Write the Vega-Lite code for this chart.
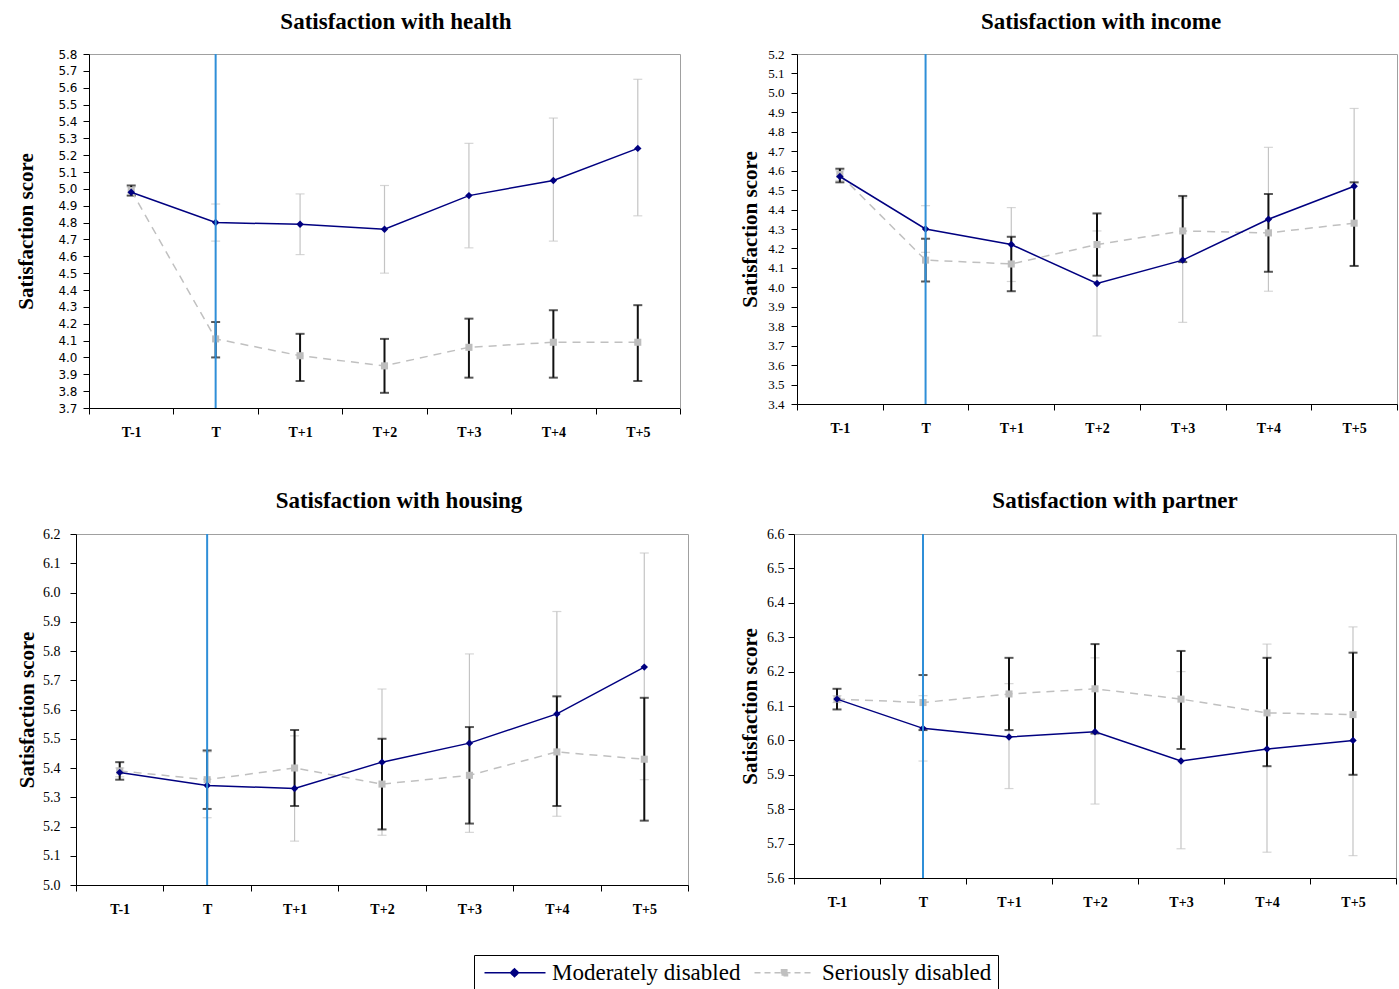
{
  "$schema": "https://vega.github.io/schema/vega-lite/v6.json",
  "background": "white",
  "padding": {"left": 15, "top": 10, "right": 0, "bottom": 0},
  "datasets": {
    "d": [
      {"panel": "health", "time": "T-1", "group": "Moderately disabled", "value": 4.98, "lo": 4.96, "hi": 5.01},
      {"panel": "health", "time": "T", "group": "Moderately disabled", "value": 4.80, "lo": 4.69, "hi": 4.91},
      {"panel": "health", "time": "T+1", "group": "Moderately disabled", "value": 4.79, "lo": 4.61, "hi": 4.97},
      {"panel": "health", "time": "T+2", "group": "Moderately disabled", "value": 4.76, "lo": 4.50, "hi": 5.02},
      {"panel": "health", "time": "T+3", "group": "Moderately disabled", "value": 4.96, "lo": 4.65, "hi": 5.27},
      {"panel": "health", "time": "T+4", "group": "Moderately disabled", "value": 5.05, "lo": 4.69, "hi": 5.42},
      {"panel": "health", "time": "T+5", "group": "Moderately disabled", "value": 5.24, "lo": 4.84, "hi": 5.65},
      {"panel": "health", "time": "T-1", "group": "Seriously disabled", "value": 4.99, "lo": 4.96, "hi": 5.02},
      {"panel": "health", "time": "T", "group": "Seriously disabled", "value": 4.11, "lo": 4.00, "hi": 4.21},
      {"panel": "health", "time": "T+1", "group": "Seriously disabled", "value": 4.01, "lo": 3.86, "hi": 4.14},
      {"panel": "health", "time": "T+2", "group": "Seriously disabled", "value": 3.95, "lo": 3.79, "hi": 4.11},
      {"panel": "health", "time": "T+3", "group": "Seriously disabled", "value": 4.06, "lo": 3.88, "hi": 4.23},
      {"panel": "health", "time": "T+4", "group": "Seriously disabled", "value": 4.09, "lo": 3.88, "hi": 4.28},
      {"panel": "health", "time": "T+5", "group": "Seriously disabled", "value": 4.09, "lo": 3.86, "hi": 4.31},

      {"panel": "income", "time": "T-1", "group": "Moderately disabled", "value": 4.57, "lo": 4.55, "hi": 4.60},
      {"panel": "income", "time": "T", "group": "Moderately disabled", "value": 4.30, "lo": 4.18, "hi": 4.42},
      {"panel": "income", "time": "T+1", "group": "Moderately disabled", "value": 4.22, "lo": 4.03, "hi": 4.41},
      {"panel": "income", "time": "T+2", "group": "Moderately disabled", "value": 4.02, "lo": 3.75, "hi": 4.29},
      {"panel": "income", "time": "T+3", "group": "Moderately disabled", "value": 4.14, "lo": 3.82, "hi": 4.46},
      {"panel": "income", "time": "T+4", "group": "Moderately disabled", "value": 4.35, "lo": 3.98, "hi": 4.72},
      {"panel": "income", "time": "T+5", "group": "Moderately disabled", "value": 4.52, "lo": 4.11, "hi": 4.92},
      {"panel": "income", "time": "T-1", "group": "Seriously disabled", "value": 4.58, "lo": 4.54, "hi": 4.61},
      {"panel": "income", "time": "T", "group": "Seriously disabled", "value": 4.14, "lo": 4.03, "hi": 4.25},
      {"panel": "income", "time": "T+1", "group": "Seriously disabled", "value": 4.12, "lo": 3.98, "hi": 4.26},
      {"panel": "income", "time": "T+2", "group": "Seriously disabled", "value": 4.22, "lo": 4.06, "hi": 4.38},
      {"panel": "income", "time": "T+3", "group": "Seriously disabled", "value": 4.29, "lo": 4.13, "hi": 4.47},
      {"panel": "income", "time": "T+4", "group": "Seriously disabled", "value": 4.28, "lo": 4.08, "hi": 4.48},
      {"panel": "income", "time": "T+5", "group": "Seriously disabled", "value": 4.33, "lo": 4.11, "hi": 4.54},

      {"panel": "housing", "time": "T-1", "group": "Moderately disabled", "value": 5.385, "lo": 5.37, "hi": 5.40},
      {"panel": "housing", "time": "T", "group": "Moderately disabled", "value": 5.34, "lo": 5.23, "hi": 5.455},
      {"panel": "housing", "time": "T+1", "group": "Moderately disabled", "value": 5.33, "lo": 5.15, "hi": 5.51},
      {"panel": "housing", "time": "T+2", "group": "Moderately disabled", "value": 5.42, "lo": 5.17, "hi": 5.67},
      {"panel": "housing", "time": "T+3", "group": "Moderately disabled", "value": 5.485, "lo": 5.18, "hi": 5.79},
      {"panel": "housing", "time": "T+4", "group": "Moderately disabled", "value": 5.585, "lo": 5.235, "hi": 5.935},
      {"panel": "housing", "time": "T+5", "group": "Moderately disabled", "value": 5.745, "lo": 5.36, "hi": 6.135},
      {"panel": "housing", "time": "T-1", "group": "Seriously disabled", "value": 5.39, "lo": 5.36, "hi": 5.42},
      {"panel": "housing", "time": "T", "group": "Seriously disabled", "value": 5.36, "lo": 5.26, "hi": 5.46},
      {"panel": "housing", "time": "T+1", "group": "Seriously disabled", "value": 5.40, "lo": 5.27, "hi": 5.53},
      {"panel": "housing", "time": "T+2", "group": "Seriously disabled", "value": 5.345, "lo": 5.19, "hi": 5.50},
      {"panel": "housing", "time": "T+3", "group": "Seriously disabled", "value": 5.375, "lo": 5.21, "hi": 5.54},
      {"panel": "housing", "time": "T+4", "group": "Seriously disabled", "value": 5.455, "lo": 5.27, "hi": 5.645},
      {"panel": "housing", "time": "T+5", "group": "Seriously disabled", "value": 5.43, "lo": 5.22, "hi": 5.64},

      {"panel": "partner", "time": "T-1", "group": "Moderately disabled", "value": 6.12, "lo": 6.11, "hi": 6.13},
      {"panel": "partner", "time": "T", "group": "Moderately disabled", "value": 6.035, "lo": 5.94, "hi": 6.13},
      {"panel": "partner", "time": "T+1", "group": "Moderately disabled", "value": 6.01, "lo": 5.86, "hi": 6.165},
      {"panel": "partner", "time": "T+2", "group": "Moderately disabled", "value": 6.025, "lo": 5.815, "hi": 6.24},
      {"panel": "partner", "time": "T+3", "group": "Moderately disabled", "value": 5.94, "lo": 5.685, "hi": 6.20},
      {"panel": "partner", "time": "T+4", "group": "Moderately disabled", "value": 5.975, "lo": 5.675, "hi": 6.28},
      {"panel": "partner", "time": "T+5", "group": "Moderately disabled", "value": 6.0, "lo": 5.665, "hi": 6.33},
      {"panel": "partner", "time": "T-1", "group": "Seriously disabled", "value": 6.12, "lo": 6.09, "hi": 6.15},
      {"panel": "partner", "time": "T", "group": "Seriously disabled", "value": 6.11, "lo": 6.03, "hi": 6.19},
      {"panel": "partner", "time": "T+1", "group": "Seriously disabled", "value": 6.135, "lo": 6.03, "hi": 6.24},
      {"panel": "partner", "time": "T+2", "group": "Seriously disabled", "value": 6.15, "lo": 6.02, "hi": 6.28},
      {"panel": "partner", "time": "T+3", "group": "Seriously disabled", "value": 6.12, "lo": 5.975, "hi": 6.26},
      {"panel": "partner", "time": "T+4", "group": "Seriously disabled", "value": 6.08, "lo": 5.925, "hi": 6.24},
      {"panel": "partner", "time": "T+5", "group": "Seriously disabled", "value": 6.075, "lo": 5.90, "hi": 6.255}
    ]
  },
  "config": {
    "font": "Liberation Serif",
    "view": {"stroke": "#a0a0a0", "strokeWidth": 1},
    "axis": {"grid": false, "domainColor": "black", "tickColor": "black", "labelColor": "black", "titleColor": "black", "labelFont": "Liberation Serif", "titleFont": "Liberation Serif", "domainWidth": 1, "tickWidth": 1, "tickSize": 6},
    "title": {"font": "Liberation Serif", "fontWeight": "bold", "fontSize": 23, "color": "black", "offset": 14},
    "legend": {"orient": "none", "legendX": 398, "legendY": 901, "direction": "horizontal", "title": null, "strokeColor": "black", "padding": 6, "labelFont": "Liberation Serif", "labelFontSize": 23, "labelColor": "black", "labelLimit": 400, "symbolSize": 400, "symbolStrokeWidth": 1.5, "symbolOpacity": 1, "labelOffset": 49, "columnPadding": 9, "fillColor": "white"}
  },
  "align": "none",
  "columns": 2,
  "spacing": {"row": 50, "column": 50},
  "concat": [
    {
      "width": 604, "height": 354,
      "view": {"stroke": null},
      "title": {"text": "Satisfaction with health", "dx": 18},
      "resolve": {"axis": {"x": "independent", "y": "independent"}},
      "layer": [
        {
          "data": {"name": "d"},
          "transform": [{"filter": "datum.panel == 'health'"}],
          "encoding": {"x": {"field": "time", "type": "ordinal", "sort": ["T-1", "T", "T+1", "T+2", "T+3", "T+4", "T+5"], "scale": {"type": "band", "paddingInner": 0, "paddingOuter": 0, "range": [13, 604]}, "axis": {"title": null, "labelAngle": 0, "tickBand": "extent", "labelFontSize": 14, "labelPadding": 11, "labelFontWeight": "bold"}}},
          "layer": [
            {"transform": [{"filter": "datum.group == 'Moderately disabled'"}], "mark": {"type": "errorbar", "color": "#c4c4c4", "thickness": 1.2, "ticks": {"size": 9, "thickness": 1.2, "color": "#c4c4c4"}}, "encoding": {"y": {"field": "lo", "type": "quantitative", "title": "Satisfaction score", "scale": {"domain": [3.7, 5.8], "nice": false, "zero": false}}, "y2": {"field": "hi"}}},
            {"transform": [{"filter": "datum.group == 'Seriously disabled'"}], "mark": {"type": "errorbar", "color": "#111111", "thickness": 2, "ticks": {"size": 9, "thickness": 2, "color": "#111111"}}, "encoding": {"y": {"field": "lo", "type": "quantitative", "title": "Satisfaction score"}, "y2": {"field": "hi"}}},
            {"transform": [{"filter": "datum.group == 'Seriously disabled'"}], "mark": {"type": "line", "color": "#c0c0c0", "strokeDash": [8, 6], "strokeWidth": 1.5}, "encoding": {"y": {"field": "value", "type": "quantitative", "title": "Satisfaction score"}}},
            {"transform": [{"filter": "datum.group == 'Seriously disabled'"}], "mark": {"type": "point", "shape": "square", "filled": true, "color": "#bdbdbd", "size": 50, "opacity": 1}, "encoding": {"y": {"field": "value", "type": "quantitative", "title": "Satisfaction score"}}},
            {"transform": [{"filter": "datum.group == 'Moderately disabled'"}], "mark": {"type": "line", "color": "#000080", "strokeWidth": 1.5}, "encoding": {"y": {"field": "value", "type": "quantitative", "title": "Satisfaction score", "axis": {"values": [3.7,3.8,3.9,4.0,4.1,4.2,4.3,4.4,4.5,4.6,4.7,4.8,4.9,5.0,5.1,5.2,5.3,5.4,5.5,5.6,5.7,5.8], "tickCount": 60, "labelOverlap": false, "format": ".1f", "labelFont": "DejaVu Sans", "labelFontSize": 12, "labelPadding": 6, "titleFontSize": 21, "titleFontWeight": "bold", "titlePadding": 21, "offset": -13}}}},
            {"transform": [{"filter": "datum.group == 'Moderately disabled'"}], "mark": {"type": "point", "shape": "diamond", "filled": true, "color": "#000080", "size": 55, "opacity": 1}, "encoding": {"y": {"field": "value", "type": "quantitative", "title": "Satisfaction score"}}},
            {"data": {"values": [{"time": "T"}]}, "mark": {"type": "rule", "color": "#2f8fd8", "strokeWidth": 2}, "encoding": {}},
            {"transform": [{"filter": "datum.panel == 'none'"}], "mark": {"type": "point", "filled": true}, "encoding": {
              "fill": {"field": "group", "type": "nominal", "scale": {"domain": ["Moderately disabled", "Seriously disabled"], "range": ["#000080", "#c0c0c0"]}},
              "stroke": {"field": "group", "type": "nominal", "scale": {"domain": ["Moderately disabled", "Seriously disabled"], "range": ["#000080", "#c0c0c0"]}},
              "shape": {"field": "group", "type": "nominal", "scale": {"domain": ["Moderately disabled", "Seriously disabled"], "range": ["M-0.7,0L5.4,0M2.3,-0.4L2.7,0L2.3,0.4L1.9,0Z", "M-0.7,0L5.3,0M2.0,-0.3L2.6,-0.3L2.6,0.3L2.0,0.3Z"]}},
              "strokeDash": {"field": "group", "type": "nominal", "scale": {"domain": ["Moderately disabled", "Seriously disabled"], "range": [[1, 0], [6, 4]]}}
            }}
          ]
        },
        {
          "data": {"values": [{"time": "T", "v": 5.0}]},
          "mark": {"type": "point", "opacity": 0},
          "encoding": {
            "x": {"field": "time", "type": "ordinal", "sort": ["T-1", "T", "T+1", "T+2", "T+3", "T+4", "T+5"], "scale": {"type": "band", "paddingInner": 0, "paddingOuter": 0, "range": [13, 604]}, "axis": {"orient": "top", "domainColor": "#a0a0a0", "ticks": false, "labels": false, "title": null}},
            "y": {"field": "v", "type": "quantitative", "axis": {"orient": "right", "domainColor": "#a0a0a0", "ticks": false, "labels": false, "title": null}}
          }
        }
      ]
    },
    {
      "width": 600, "height": 350,
      "title": {"text": "Satisfaction with income", "dx": 4},
      "data": {"name": "d"},
      "transform": [{"filter": "datum.panel == 'income'"}],
      "encoding": {"x": {"field": "time", "type": "ordinal", "sort": ["T-1", "T", "T+1", "T+2", "T+3", "T+4", "T+5"], "scale": {"type": "band", "paddingInner": 0, "paddingOuter": 0}, "axis": {"title": null, "labelAngle": 0, "tickBand": "extent", "labelFontSize": 14, "labelPadding": 11, "labelFontWeight": "bold"}}},
      "layer": [
        {"transform": [{"filter": "datum.group == 'Moderately disabled'"}], "mark": {"type": "errorbar", "color": "#c4c4c4", "thickness": 1.2, "ticks": {"size": 9, "thickness": 1.2, "color": "#c4c4c4"}}, "encoding": {"y": {"field": "lo", "type": "quantitative", "title": "Satisfaction score", "scale": {"domain": [3.4, 5.2], "nice": false, "zero": false}}, "y2": {"field": "hi"}}},
        {"transform": [{"filter": "datum.group == 'Seriously disabled'"}], "mark": {"type": "errorbar", "color": "#111111", "thickness": 2, "ticks": {"size": 9, "thickness": 2, "color": "#111111"}}, "encoding": {"y": {"field": "lo", "type": "quantitative", "title": "Satisfaction score"}, "y2": {"field": "hi"}}},
        {"transform": [{"filter": "datum.group == 'Seriously disabled'"}], "mark": {"type": "line", "color": "#c0c0c0", "strokeDash": [8, 6], "strokeWidth": 1.5}, "encoding": {"y": {"field": "value", "type": "quantitative", "title": "Satisfaction score"}}},
        {"transform": [{"filter": "datum.group == 'Seriously disabled'"}], "mark": {"type": "point", "shape": "square", "filled": true, "color": "#bdbdbd", "size": 50, "opacity": 1}, "encoding": {"y": {"field": "value", "type": "quantitative", "title": "Satisfaction score"}}},
        {"transform": [{"filter": "datum.group == 'Moderately disabled'"}], "mark": {"type": "line", "color": "#000080", "strokeWidth": 1.5}, "encoding": {"y": {"field": "value", "type": "quantitative", "title": "Satisfaction score", "axis": {"values": [3.4,3.5,3.6,3.7,3.8,3.9,4.0,4.1,4.2,4.3,4.4,4.5,4.6,4.7,4.8,4.9,5.0,5.1,5.2], "tickCount": 60, "labelOverlap": false, "format": ".1f", "labelFontSize": 13, "labelPadding": 7, "titleFontSize": 21, "titleFontWeight": "bold", "titlePadding": 7}}}},
        {"transform": [{"filter": "datum.group == 'Moderately disabled'"}], "mark": {"type": "point", "shape": "diamond", "filled": true, "color": "#000080", "size": 55, "opacity": 1}, "encoding": {"y": {"field": "value", "type": "quantitative", "title": "Satisfaction score"}}},
        {"data": {"values": [{"time": "T"}]}, "mark": {"type": "rule", "color": "#2f8fd8", "strokeWidth": 2}, "encoding": {}}
      ]
    },
    {
      "width": 612, "height": 351,
      "title": {"text": "Satisfaction with housing", "dx": 17},
      "data": {"name": "d"},
      "transform": [{"filter": "datum.panel == 'housing'"}],
      "encoding": {"x": {"field": "time", "type": "ordinal", "sort": ["T-1", "T", "T+1", "T+2", "T+3", "T+4", "T+5"], "scale": {"type": "band", "paddingInner": 0, "paddingOuter": 0}, "axis": {"title": null, "labelAngle": 0, "tickBand": "extent", "labelFontSize": 14, "labelPadding": 11, "labelFontWeight": "bold"}}},
      "layer": [
        {"transform": [{"filter": "datum.group == 'Moderately disabled'"}], "mark": {"type": "errorbar", "color": "#c4c4c4", "thickness": 1.2, "ticks": {"size": 9, "thickness": 1.2, "color": "#c4c4c4"}}, "encoding": {"y": {"field": "lo", "type": "quantitative", "title": "Satisfaction score", "scale": {"domain": [5.0, 6.2], "nice": false, "zero": false}}, "y2": {"field": "hi"}}},
        {"transform": [{"filter": "datum.group == 'Seriously disabled'"}], "mark": {"type": "errorbar", "color": "#111111", "thickness": 2, "ticks": {"size": 9, "thickness": 2, "color": "#111111"}}, "encoding": {"y": {"field": "lo", "type": "quantitative", "title": "Satisfaction score"}, "y2": {"field": "hi"}}},
        {"transform": [{"filter": "datum.group == 'Seriously disabled'"}], "mark": {"type": "line", "color": "#c0c0c0", "strokeDash": [8, 6], "strokeWidth": 1.5}, "encoding": {"y": {"field": "value", "type": "quantitative", "title": "Satisfaction score"}}},
        {"transform": [{"filter": "datum.group == 'Seriously disabled'"}], "mark": {"type": "point", "shape": "square", "filled": true, "color": "#bdbdbd", "size": 50, "opacity": 1}, "encoding": {"y": {"field": "value", "type": "quantitative", "title": "Satisfaction score"}}},
        {"transform": [{"filter": "datum.group == 'Moderately disabled'"}], "mark": {"type": "line", "color": "#000080", "strokeWidth": 1.5}, "encoding": {"y": {"field": "value", "type": "quantitative", "title": "Satisfaction score", "axis": {"values": [5.0,5.1,5.2,5.3,5.4,5.5,5.6,5.7,5.8,5.9,6.0,6.1,6.2], "tickCount": 60, "labelOverlap": false, "format": ".1f", "labelFontSize": 14, "labelPadding": 10, "titleFontSize": 21, "titleFontWeight": "bold", "titlePadding": 5}}}},
        {"transform": [{"filter": "datum.group == 'Moderately disabled'"}], "mark": {"type": "point", "shape": "diamond", "filled": true, "color": "#000080", "size": 55, "opacity": 1}, "encoding": {"y": {"field": "value", "type": "quantitative", "title": "Satisfaction score"}}},
        {"data": {"values": [{"time": "T"}]}, "mark": {"type": "rule", "color": "#2f8fd8", "strokeWidth": 2}, "encoding": {}}
      ]
    },
    {
      "width": 602, "height": 344,
      "title": {"text": "Satisfaction with partner", "dx": 20},
      "data": {"name": "d"},
      "transform": [{"filter": "datum.panel == 'partner'"}],
      "encoding": {"x": {"field": "time", "type": "ordinal", "sort": ["T-1", "T", "T+1", "T+2", "T+3", "T+4", "T+5"], "scale": {"type": "band", "paddingInner": 0, "paddingOuter": 0}, "axis": {"title": null, "labelAngle": 0, "tickBand": "extent", "labelFontSize": 14, "labelPadding": 11, "labelFontWeight": "bold"}}},
      "layer": [
        {"transform": [{"filter": "datum.group == 'Moderately disabled'"}], "mark": {"type": "errorbar", "color": "#c4c4c4", "thickness": 1.2, "ticks": {"size": 9, "thickness": 1.2, "color": "#c4c4c4"}}, "encoding": {"y": {"field": "lo", "type": "quantitative", "title": "Satisfaction score", "scale": {"domain": [5.6, 6.6], "nice": false, "zero": false}}, "y2": {"field": "hi"}}},
        {"transform": [{"filter": "datum.group == 'Seriously disabled'"}], "mark": {"type": "errorbar", "color": "#111111", "thickness": 2, "ticks": {"size": 9, "thickness": 2, "color": "#111111"}}, "encoding": {"y": {"field": "lo", "type": "quantitative", "title": "Satisfaction score"}, "y2": {"field": "hi"}}},
        {"transform": [{"filter": "datum.group == 'Seriously disabled'"}], "mark": {"type": "line", "color": "#c0c0c0", "strokeDash": [8, 6], "strokeWidth": 1.5}, "encoding": {"y": {"field": "value", "type": "quantitative", "title": "Satisfaction score"}}},
        {"transform": [{"filter": "datum.group == 'Seriously disabled'"}], "mark": {"type": "point", "shape": "square", "filled": true, "color": "#bdbdbd", "size": 50, "opacity": 1}, "encoding": {"y": {"field": "value", "type": "quantitative", "title": "Satisfaction score"}}},
        {"transform": [{"filter": "datum.group == 'Moderately disabled'"}], "mark": {"type": "line", "color": "#000080", "strokeWidth": 1.5}, "encoding": {"y": {"field": "value", "type": "quantitative", "title": "Satisfaction score", "axis": {"values": [5.6,5.7,5.8,5.9,6.0,6.1,6.2,6.3,6.4,6.5,6.6], "tickCount": 60, "labelOverlap": false, "format": ".1f", "labelFontSize": 14, "labelPadding": 4, "titleFontSize": 21, "titleFontWeight": "bold", "titlePadding": 6}}}},
        {"transform": [{"filter": "datum.group == 'Moderately disabled'"}], "mark": {"type": "point", "shape": "diamond", "filled": true, "color": "#000080", "size": 55, "opacity": 1}, "encoding": {"y": {"field": "value", "type": "quantitative", "title": "Satisfaction score"}}},
        {"data": {"values": [{"time": "T"}]}, "mark": {"type": "rule", "color": "#2f8fd8", "strokeWidth": 2}, "encoding": {}}
      ]
    }
  ]
}
